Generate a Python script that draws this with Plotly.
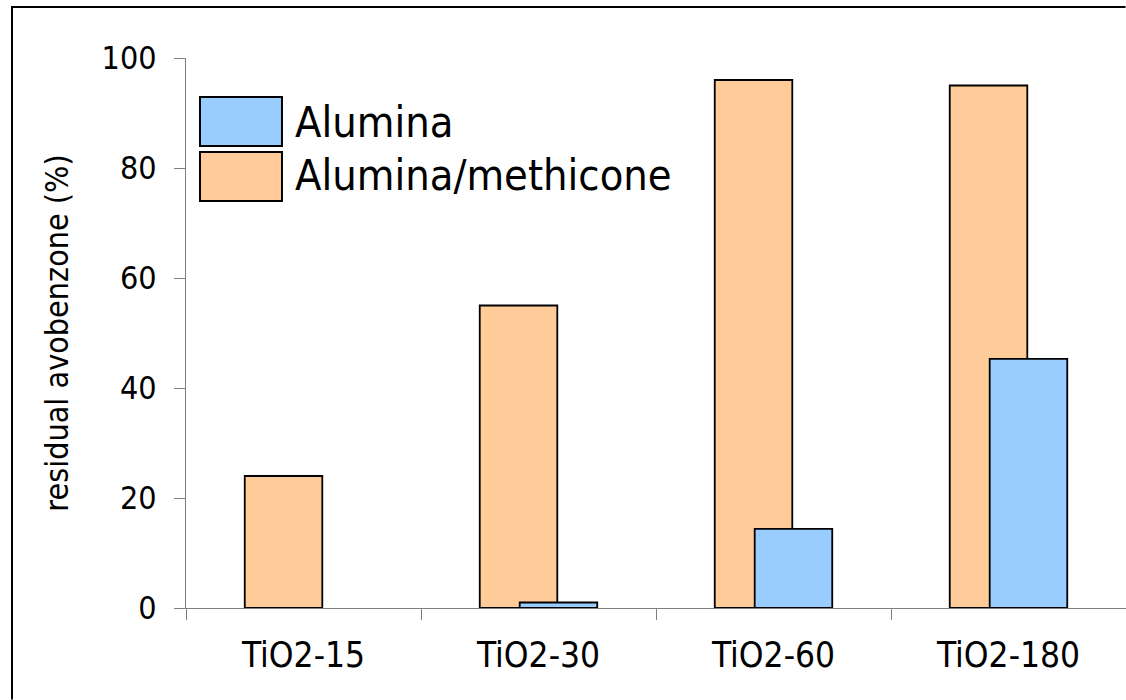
import plotly.graph_objects as go

categories = ["TiO2-15", "TiO2-30", "TiO2-60", "TiO2-180"]
alumina_methicone = [24, 55, 96, 95]
alumina = [None, 1, 14.4, 45.3]
series_names = ["Alumina", "Alumina/methicone"]
y_ticks = [0, 20, 40, 60, 80, 100]

FONT = "DejaVu Sans Condensed, DejaVu Sans, sans-serif"
ORANGE = "#FFCC99"
BLUE = "#99CCFF"
GREY = "#808080"

fig = go.Figure()
fig.add_trace(go.Bar(
    x=categories, y=alumina_methicone, name=series_names[1],
    width=0.33, offset=-0.25,
    marker=dict(color=ORANGE, line=dict(color="black", width=1.8)),
    showlegend=False,
))
fig.add_trace(go.Bar(
    x=categories, y=alumina, name=series_names[0],
    width=0.33, offset=-0.08,
    marker=dict(color=BLUE, line=dict(color="black", width=1.8)),
    showlegend=False,
))

# custom legend (large swatches as in the reference)
legend_items = [(series_names[0], BLUE, 0.84, 0.929, 0.8845),
                (series_names[1], ORANGE, 0.74, 0.829, 0.787)]
shapes = []
annotations = []
for name, col, y0, y1, ty in legend_items:
    shapes.append(dict(type="rect", xref="paper", yref="paper",
                       x0=0.0149, x1=0.1021, y0=y0, y1=y1,
                       fillcolor=col, line=dict(color="black", width=2)))
    annotations.append(dict(xref="paper", yref="paper", x=0.114, y=ty,
                            xanchor="left", yanchor="middle", showarrow=False,
                            text=name, font=dict(family=FONT, size=43, color="black")))

# outer frame (left and top edges) as thin filled strips, no strokes
shapes.append(dict(type="rect", xref="paper", yref="paper",
                   x0=-0.18617, x1=-0.18404, y0=-0.16636, y1=1.09455,
                   fillcolor="black", line=dict(width=0), layer="above"))
shapes.append(dict(type="rect", xref="paper", yref="paper",
                   x0=-0.18617, x1=0.99947, y0=1.090909, y1=1.09455,
                   fillcolor="black", line=dict(width=0), layer="above"))

fig.update_layout(
    width=1126, height=700,
    margin=dict(l=186, r=0, t=58, b=92, pad=0),
    paper_bgcolor="white", plot_bgcolor="white",
    barmode="overlay",
    font=dict(family=FONT, color="black"),
    shapes=shapes, annotations=annotations,
    showlegend=False,
    xaxis=dict(
        showline=True, linecolor=GREY, linewidth=1.2,
        ticks="outside", tickson="boundaries", ticklen=11, tickcolor=GREY, tickwidth=1.2,
        tickfont=dict(family=FONT, size=35, color="black"),
        ticklabelstandoff=16,
        showgrid=False, zeroline=False,
    ),
    yaxis=dict(
        range=[0, 100], tickvals=y_ticks,
        showline=True, linecolor=GREY, linewidth=1.2,
        ticks="outside", ticklen=11, tickcolor=GREY, tickwidth=1.2,
        tickfont=dict(family=FONT, size=32, color="black"),
        ticklabelstandoff=11,
        showgrid=False, zeroline=False,
        title=dict(text="residual avobenzone (%)",
                   font=dict(family=FONT, size=32, color="black"), standoff=23),
    ),
)

fig.write_html("out.html")
